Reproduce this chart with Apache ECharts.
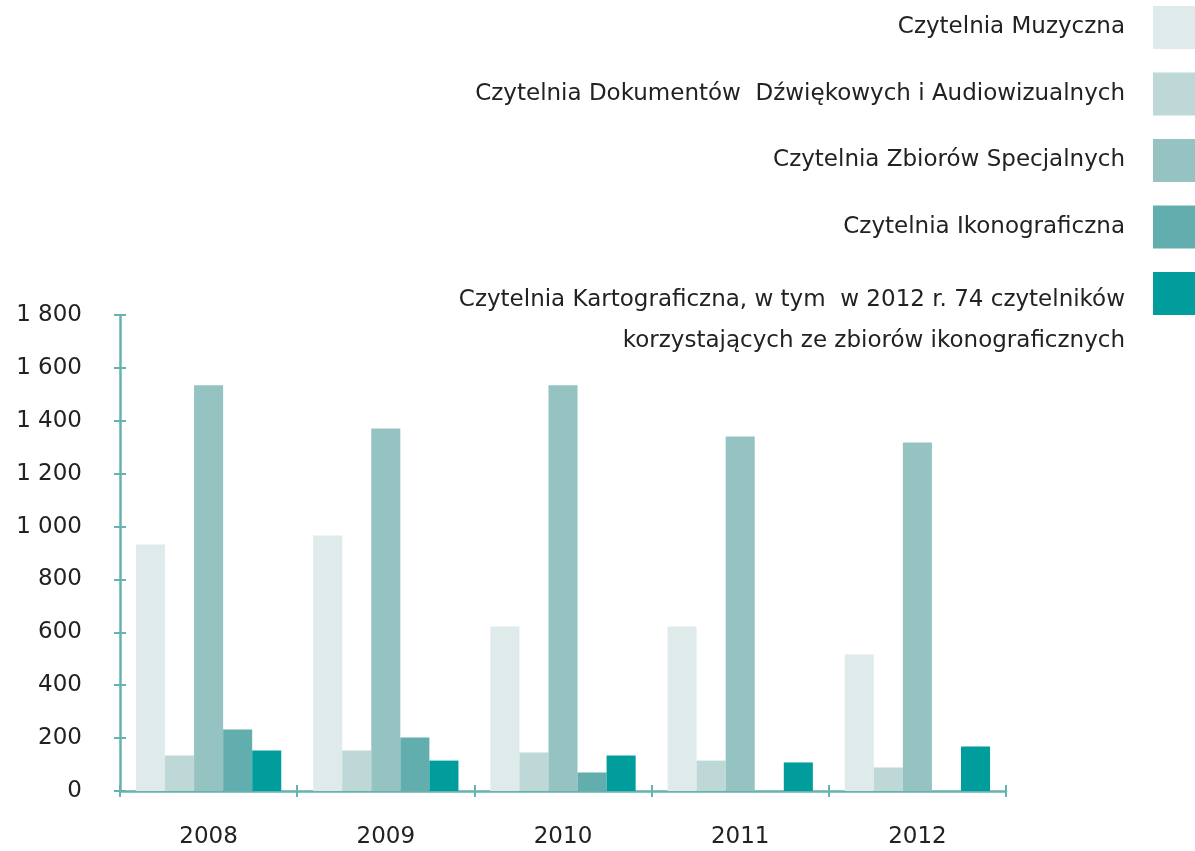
<!DOCTYPE html>
<html>
<head>
<meta charset="utf-8">
<script src="https://cdn.jsdelivr.net/npm/echarts@6/dist/echarts.min.js"></script>
<style>
  html, body { margin: 0; padding: 0; background: #fff; }
  #chart { width: 1195px; height: 851px; }
</style>
</head>
<body>
<div id="chart"></div>
<script>
// lata
var years = ['2008', '2009', '2010', '2011', '2012'];
// serie
var seriesNames = [
  'Czytelnia Muzyczna',
  'Czytelnia Dokumentów  Dźwiękowych i Audiowizualnych',
  'Czytelnia Zbiorów Specjalnych',
  'Czytelnia Ikonograficzna',
  'Czytelnia Kartograficzna, w tym  w 2012 r. 74 czytelników\nkorzystających ze zbiorów ikonograficznych'
];
var muzyczna = [932, 966, 622, 622, 516];
var dokumenty = [134, 153, 146, 115, 89];
var zbiory = [1534, 1371, 1534, 1341, 1318];
var ikono = [233, 202, 70, 0, 0];
var karto = [153, 115, 134, 108, 168];
var colors = ['#dfebeb', '#bdd8d7', '#95c3c2', '#62aeae', '#009d9c'];
var yTicks = [0, 200, 400, 600, 800, 1000, 1200, 1400, 1600, 1800];

var axisColor = '#66b2b0';
var font = 'DejaVu Sans';

var chart = echarts.init(document.getElementById('chart'));

var allData = [muzyczna, dokumenty, zbiory, ikono, karto];
var series = allData.map(function (d, i) {
  return {
    name: seriesNames[i],
    type: 'bar',
    data: d,
    barGap: 0,
    barCategoryGap: '18%',
    itemStyle: { color: colors[i] },
    xAxisIndex: 0,
    yAxisIndex: 0
  };
});

var yMin = yTicks[0], yMax = yTicks[yTicks.length - 1];
var yInt = yTicks[1] - yTicks[0];

var legendCommon = {
  orient: 'vertical',
  right: 0,
  padding: 0,
  align: 'right',
  icon: 'rect',
  itemWidth: 42,
  itemHeight: 43,
  itemGap: 23.5,
  selectedMode: false
};

var option = {
  animation: false,
  textStyle: { fontFamily: font },
  grid: { left: 120, right: 189, top: 315, bottom: 60 },
  legend: [
    Object.assign({}, legendCommon, {
      top: 6,
      data: seriesNames.slice(0, 4),
      textStyle: {
        fontFamily: font,
        fontSize: 23,
        color: '#222',
        padding: [0, 23, 0, 0]
      }
    }),
    // ostatnia pozycja: dwa wiersze, przesunięte w dół względem kwadratu
    Object.assign({}, legendCommon, {
      top: 247.5,
      data: seriesNames.slice(4),
      formatter: function (name) {
        var lines = name.split('\n');
        return '{s| }\n' + lines.map(function (l) { return '{t|' + l + '}'; }).join('\n');
      },
      textStyle: {
        fontFamily: font,
        fontSize: 23,
        color: '#222',
        padding: [0, 23, 0, 0],
        rich: {
          s: { lineHeight: 54, fontSize: 10 },
          t: { lineHeight: 41, fontSize: 23, fontFamily: font, color: '#222' }
        }
      }
    })
  ],
  xAxis: [
    {
      type: 'category',
      data: years,
      axisLine: { lineStyle: { color: axisColor, width: 2.5 } },
      axisTick: { show: true, length: 6, lineStyle: { color: axisColor, width: 2 } },
      axisLabel: { color: '#222', fontSize: 23, margin: 35, fontFamily: font }
    },
    {
      type: 'category',
      data: years,
      position: 'bottom',
      axisLine: { show: false },
      axisTick: { show: true, inside: true, length: 6, lineStyle: { color: axisColor, width: 2 } },
      axisLabel: { show: false }
    }
  ],
  yAxis: [
    {
      type: 'value',
      min: yMin,
      max: yMax,
      interval: yInt,
      splitLine: { show: false },
      axisLine: { show: true, lineStyle: { color: axisColor, width: 2.5 } },
      axisTick: { show: true, length: 6, lineStyle: { color: axisColor, width: 2 } },
      axisLabel: {
        color: '#222',
        fontSize: 23,
        margin: 38,
        fontFamily: font,
        formatter: function (v) {
          var s = String(v);
          return s.length > 3 ? s.slice(0, s.length - 3) + ' ' + s.slice(-3) : s;
        }
      }
    },
    {
      type: 'value',
      min: yMin,
      max: yMax,
      interval: yInt,
      position: 'left',
      splitLine: { show: false },
      axisLine: { show: false },
      axisTick: { show: true, inside: true, length: 6, lineStyle: { color: axisColor, width: 2 } },
      axisLabel: { show: false }
    }
  ],
  series: series
};

chart.setOption(option);
</script>
</body>
</html>
